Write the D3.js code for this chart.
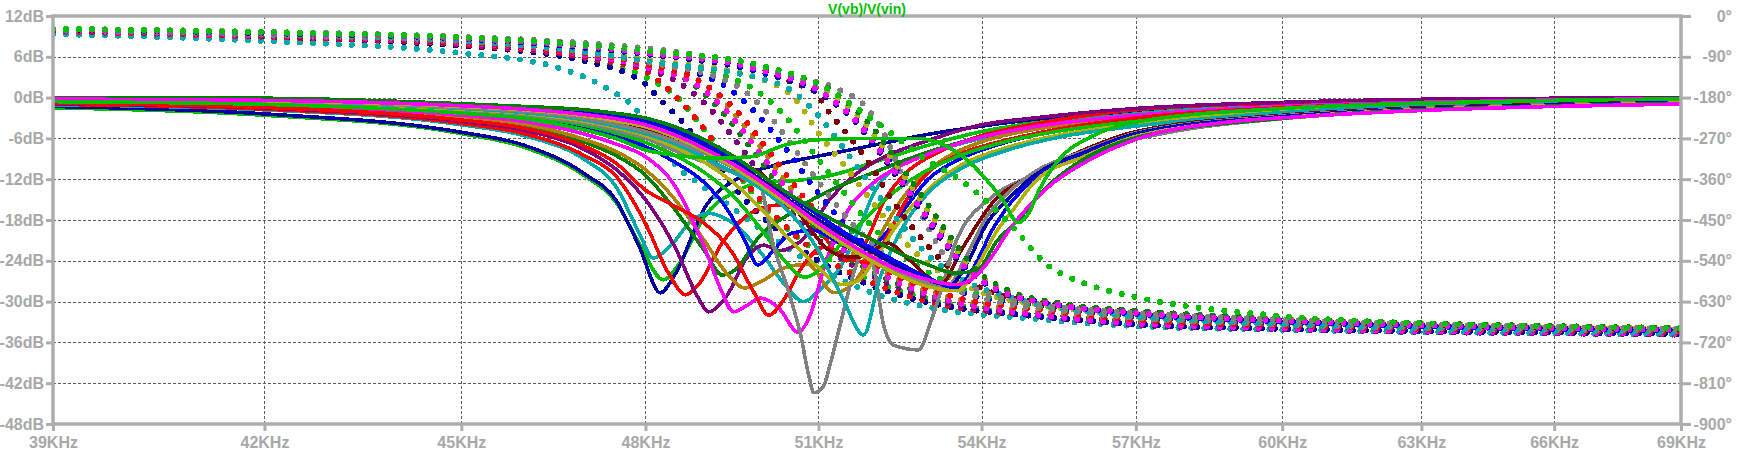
<!DOCTYPE html>
<html>
<head>
<meta charset="utf-8">
<script src="https://d3js.org/d3.v7.min.js"></script>
<style>
  html, body { margin: 0; padding: 0; background: #fff; }
  svg { display: block; }
  .lbl text { font-family: "Liberation Sans", Arial, sans-serif; font-size: 16px; font-weight: bold; fill: #a8a8a8; }
</style>
</head>
<body>
<svg id="chart"></svg>
<script>
// tick values (kHz, dB, degrees)
const freqTicks = [39, 42, 45, 48, 51, 54, 57, 60, 63, 66, 69];
const dbTicks = [12, 6, 0, -6, -12, -18, -24, -30, -36, -42, -48];
const phaseTicks = [0, -90, -180, -270, -360, -450, -540, -630, -720, -810, -900];

// one colour per .step run
const stepColors = [
  '#00c000', '#0000a0', '#00aaaa', '#ff0000', '#800080', '#008000',
  '#b08000', '#ff00ff', '#0000ff', '#ff0000', '#00c000', '#808080',
  '#b0b000', '#00aaaa', '#800000', '#808080', '#0000a0', '#0000ff',
  '#b0b000', '#008000', '#ff00ff', '#00c000'
];

// magnitude per step: [kHz, dB]
const magSteps = [
  [[39,-1.5],[42,-2.6],[45,-5.3],[46,-7.3],[47,-11.6],[47.5,-15.3],[47.9,-21.5],[48.3,-26.8],[48.6,-24],[49,-17.5],[49.5,-14],[50,-12.5],[50.6,-12.2],[51.2,-11.5],[52,-9.5],[53,-7],[54,-5],[55,-3.7],[57,-2.2],[60,-1.1],[63,-0.5],[66,-0.3],[69,-0.1]],
  [[39,-1.3],[42,-2.4],[45,-5.1],[46,-7.0],[47,-11.3],[47.5,-15],[47.9,-22],[48.25,-28.7],[48.5,-26],[49,-16.3],[49.6,-11.8],[50.2,-10],[51,-8.6],[52,-7],[53,-5.4],[54,-4.2],[55,-3.2],[57,-2],[60,-1],[63,-0.5],[66,-0.2],[69,-0.1]],
  [[39,-1.05],[42,-1.8],[45,-4.0],[46,-5.6],[47,-9.2],[47.5,-13],[47.9,-20],[48.13,-23.6],[48.4,-22],[48.8,-18],[49.05,-17],[49.5,-18.5],[50,-23],[50.4,-27.5],[50.73,-30],[51.07,-27.9],[51.3,-26],[51.7,-20],[52,-14],[52.4,-10.2],[53,-8.2],[53.5,-7],[54,-6],[55,-4.4],[57,-2.4],[60,-1.2],[63,-0.6],[66,-0.3],[69,-0.1]],
  [[39,-1.0],[42,-1.7],[45,-3.8],[46,-5.3],[47,-8.6],[47.5,-11.5],[48,-18.5],[48.4,-26],[48.68,-29],[48.9,-27.5],[49.3,-21.5],[49.8,-17],[50.28,-15.8],[50.6,-16.5],[51.1,-20.5],[51.5,-24],[51.8,-22],[52.2,-15],[52.6,-11],[53.2,-8],[54,-5.6],[55,-3.9],[57,-1.8],[60,-0.8],[63,-0.4],[66,-0.2],[69,-0.05]],
  [[39,-0.9],[42,-1.55],[45,-3.5],[46,-4.8],[47,-7.7],[47.5,-10.5],[48,-15],[48.5,-22],[48.9,-29.5],[49.07,-31.5],[49.4,-29],[49.7,-24],[50.03,-21.7],[50.3,-22.5],[50.7,-21],[51.2,-15],[51.6,-11.7],[52,-9.5],[53,-6.3],[54,-4],[55,-3],[57,-1.6],[60,-0.7],[63,-0.25],[66,-0.1],[69,0]],
  [[39,-0.8],[42,-1.35],[45,-3.1],[46,-4.2],[47,-6.6],[47.5,-8.5],[48,-11.4],[48.5,-16.5],[49,-22.5],[49.31,-26.1],[49.6,-24.8],[49.88,-21.2],[50.5,-17],[51,-14.5],[52,-11],[53,-8],[54,-5.8],[55,-4.5],[57,-3.2],[60,-1.7],[63,-0.9],[66,-0.5],[69,-0.2]],
  [[39,-0.75],[42,-1.25],[45,-2.9],[46,-3.9],[47,-6.2],[47.5,-7.9],[48,-10.6],[48.5,-15],[49,-21],[49.4,-26],[49.7,-28],[50,-27],[50.4,-25],[50.8,-24.5],[51.28,-28.7],[51.6,-27.5],[51.9,-24],[52.2,-19],[52.7,-13],[53.2,-9.5],[54,-6.5],[55,-4.7],[57,-3],[60,-1.5],[63,-0.8],[66,-0.4],[69,-0.2]],
  [[39,-0.7],[42,-1.15],[45,-2.6],[46,-3.5],[47,-5.4],[47.5,-6.8],[48,-8.7],[48.5,-13],[49,-22],[49.3,-28.5],[49.5,-31.5],[49.75,-30.5],[49.97,-29.5],[50.3,-31],[50.64,-34.5],[50.85,-32],[51.1,-25],[51.5,-17],[52,-12.5],[52.5,-10],[53,-8.3],[54,-5.8],[55,-4.3],[57,-2.6],[60,-1.3],[63,-0.7],[66,-0.35],[69,-0.15]],
  [[39,-0.55],[42,-0.9],[45,-2.1],[46,-2.9],[47,-4.4],[47.5,-5.6],[48,-7.2],[48.5,-9.5],[49,-12.5],[49.4,-16.5],[49.7,-21],[49.93,-24.6],[50.2,-22.5],[50.5,-20],[50.9,-19.5],[51.3,-21],[51.7,-22.5],[52.1,-21],[52.5,-17],[53,-12],[53.6,-9],[54.5,-6.5],[55.5,-4.8],[57,-3.1],[60,-1.6],[63,-0.9],[66,-0.5],[69,-0.25]],
  [[39,-0.85],[42,-1.45],[45,-3.3],[46,-4.5],[47,-7.2],[47.5,-9.6],[48,-13.6],[48.5,-16],[49,-18.5],[49.5,-23],[49.85,-28.5],[50.12,-32],[50.4,-29.5],[50.7,-25],[51.1,-22],[51.5,-23.5],[51.9,-24.3],[52.2,-21],[52.6,-15],[53,-11],[53.6,-8.3],[54.5,-6.2],[55.5,-4.6],[57,-3],[60,-1.5],[63,-0.8],[66,-0.4],[69,-0.2]],
  [[39,-0.5],[42,-0.85],[45,-2.0],[46,-2.7],[47,-4.1],[47.5,-5.2],[48,-6.6],[48.5,-8.5],[49,-11],[49.5,-14.5],[50,-19.5],[50.4,-24],[50.75,-26.4],[51,-25.5],[51.3,-22.5],[51.7,-19],[52.2,-15],[52.8,-11.5],[53.5,-8.8],[54.5,-6.4],[55.5,-4.9],[57,-3.5],[60,-1.8],[63,-1],[66,-0.5],[69,-0.25]],
  [[39,-0.45],[42,-0.75],[45,-1.8],[46,-2.5],[47,-3.8],[47.5,-4.8],[48,-6],[48.5,-7.8],[49,-9.5],[49.5,-11],[49.93,-12.1],[50.21,-22],[50.46,-28.3],[50.69,-35.2],[50.83,-41],[50.92,-43.4],[51.08,-42.6],[51.23,-38.6],[51.41,-32.7],[51.65,-25.4],[51.83,-22],[52.01,-25.4],[52.17,-33.2],[52.36,-36.4],[52.82,-37.1],[53.06,-32.7],[53.3,-26.8],[53.5,-21.5],[54.2,-14.6],[54.9,-11.7],[56.2,-7.7],[57.9,-4.8],[60,-3.1],[63,-1.8],[66,-1.2],[69,-0.7]],
  [[39,-0.4],[42,-0.7],[45,-1.7],[46,-2.3],[47,-3.5],[47.5,-4.4],[48,-5.6],[48.5,-7.3],[49,-9.5],[49.5,-12.5],[50,-16.5],[50.5,-21],[51,-25],[51.4,-27.5],[51.7,-27],[52,-24],[52.4,-19],[53,-13.5],[53.6,-10],[54.5,-7.3],[55.5,-5.5],[57,-3.9],[60,-2],[63,-1.1],[66,-0.6],[69,-0.3]],
  [[39,-0.35],[42,-0.6],[45,-1.6],[46,-2.2],[47,-3.3],[47.5,-4.2],[48,-5.3],[48.5,-6.8],[49,-8.8],[49.5,-11],[50,-13.5],[50.5,-17],[51,-22.5],[51.45,-29.8],[51.81,-34.9],[52.1,-26.8],[52.5,-19.5],[53,-14],[53.6,-10.5],[54.5,-7.7],[55.5,-5.8],[57,-4.2],[60,-2.2],[63,-1.2],[66,-0.65],[69,-0.35]],
  [[39,-0.3],[42,-0.5],[45,-1.4],[46,-1.9],[47,-2.9],[47.5,-3.6],[48,-4.6],[48.5,-6],[49,-7.6],[49.5,-9.3],[49.97,-11.1],[50.6,-16.5],[51.18,-22.4],[51.5,-23.4],[51.77,-23.4],[52.26,-21.4],[52.6,-23.5],[53,-26.4],[53.25,-27.3],[53.62,-22.4],[54.25,-15.1],[54.9,-11.7],[56,-7.6],[57,-5.0],[60,-2.6],[63,-1.5],[66,-1.0],[69,-0.6]],
  [[39,-0.3],[42,-0.55],[45,-1.5],[46,-2.0],[47,-3.1],[47.5,-3.9],[48,-5.0],[48.5,-6.4],[49,-8.2],[49.5,-10.3],[50,-12.7],[50.5,-15.5],[51,-18.5],[51.5,-21.5],[52,-24],[52.5,-26],[53,-27.3],[53.35,-27.8],[53.7,-23.5],[54.1,-17.5],[54.5,-14],[55,-11],[56,-7.8],[57,-5.2],[60,-2.7],[63,-1.6],[66,-1.05],[69,-0.65]],
  [[39,-0.15],[42,-0.3],[45,-1.1],[46,-1.6],[47,-2.3],[47.5,-2.9],[48,-3.8],[48.5,-5.3],[49,-7.2],[49.5,-9.5],[50,-12.2],[50.5,-15.2],[51,-18],[51.5,-20.5],[52,-22.8],[52.5,-25],[53,-26.8],[53.4,-27.6],[53.75,-24],[54.1,-18.5],[54.5,-15],[55,-11.5],[56,-8.0],[57,-5.3],[60,-2.8],[63,-1.65],[66,-1.1],[69,-0.7]],
  [[39,-0.1],[42,-0.2],[45,-1.0],[46,-1.5],[47,-2.1],[47.5,-2.7],[48,-3.4],[48.5,-4.8],[49,-6.7],[49.5,-8.9],[50,-11.5],[50.5,-14.5],[51,-17.3],[51.5,-20],[52,-22.3],[52.5,-24.5],[53,-26.5],[53.5,-28],[53.85,-25],[54.2,-19.5],[54.5,-16],[55,-12],[56,-8.3],[57,-5.5],[60,-2.9],[63,-1.7],[66,-1.15],[69,-0.75]],
  [[39,-0.25],[42,-0.45],[45,-1.3],[46,-1.8],[47,-2.7],[47.5,-3.4],[48,-4.3],[48.5,-5.8],[49,-7.8],[49.5,-10.2],[50,-13],[50.5,-16],[51,-19],[51.5,-21.8],[52,-24.2],[52.5,-26.3],[53,-27.8],[53.55,-28.4],[53.9,-25],[54.3,-19.5],[54.6,-16.5],[55,-12.5],[56,-8.6],[57,-5.7],[60,-3.0],[63,-1.75],[66,-1.2],[69,-0.8]],
  [[39,-0.05],[42,-0.1],[45,-0.9],[46,-1.3],[47,-1.8],[47.5,-2.3],[48,-3.0],[48.5,-4.3],[49,-6.2],[49.5,-8.6],[50,-11.5],[50.5,-14.3],[51,-16.8],[51.5,-19],[52,-21],[52.5,-23],[53,-24.6],[53.5,-25.8],[53.9,-25.5],[54.3,-21],[54.7,-18],[55.2,-13.5],[56,-8.9],[57,-5.9],[60,-3.05],[63,-1.8],[66,-1.25],[69,-0.85]],
  [[39,-0.2],[42,-0.4],[45,-1.2],[46,-1.7],[47,-2.5],[47.5,-3.1],[48,-4.0],[48.5,-5.5],[49,-7.5],[49.5,-9.8],[50,-12.5],[50.5,-15.5],[51,-18.5],[51.5,-21.2],[52,-23.6],[52.5,-25.5],[53,-26.8],[53.5,-27.5],[53.8,-26.8],[54.05,-24.9],[54.57,-19],[55.21,-13.6],[56.07,-9.2],[56.98,-6.2],[59,-3.5],[60.4,-2.8],[63,-1.9],[66,-1.3],[69,-0.95]],
  [[39,-0.6],[42,-1.0],[45,-2.3],[46,-3.1],[47,-4.8],[47.5,-6],[48,-7.7],[48.6,-8.6],[49.2,-8.9],[49.8,-8.7],[50.4,-7],[51,-6.2],[52,-6],[52.8,-6],[53.3,-7],[53.7,-9],[54.05,-11.7],[54.4,-15],[54.7,-18.4],[54.9,-17],[55.1,-13.6],[55.5,-9],[56.1,-5.8],[57,-3.6],[60,-1.6],[63,-0.8],[66,-0.4],[69,-0.2]]
];

// phase per step: [kHz, degrees]
const phaseSteps = [
  [[39,-34],[42,-45],[45,-62],[47,-95],[48,-135],[48.5,-175],[49,-250],[49.5,-335],[50,-415],[50.6,-485],[51.3,-545],[52.2,-595],[53.2,-630],[55,-660],[57,-676],[60,-687],[63,-693],[66,-697],[69,-700]],
  [[39,-36],[42,-48],[45,-66],[47,-100],[48,-150],[48.2,-178],[48.6,-230],[49.2,-325],[49.7,-405],[50.3,-475],[51,-540],[52,-597],[53,-632],[55,-662],[57,-680],[60,-690],[63,-695],[66,-698],[69,-701]],
  [[39,-40],[42,-55],[45,-82],[46.5,-112],[47.4,-163],[47.8,-200],[48.2,-273],[48.5,-328],[48.9,-369],[49.5,-425],[50.2,-490],[51,-555],[52,-612],[53,-642],[55,-668],[57,-684],[60,-692],[63,-697],[66,-700],[69,-703]],
  [[39,-34],[42,-46],[45,-63],[47,-92],[48,-122],[48.3,-152],[48.8,-218],[49.3,-300],[49.8,-380],[50.3,-450],[51,-525],[52,-590],[53,-630],[55,-660],[57,-678],[60,-688],[63,-694],[66,-697],[69,-700]],
  [[39,-33],[42,-44],[45,-60],[47,-88],[48,-115],[48.6,-150],[49.1,-205],[49.6,-285],[50.1,-370],[50.6,-445],[51.2,-515],[52,-575],[53,-622],[55,-660],[57,-681],[60,-691],[63,-697],[66,-700],[69,-703]],
  [[39,-31],[42,-42],[45,-57],[47,-84],[48,-108],[48.8,-150],[49.3,-210],[49.8,-290],[50.3,-375],[50.8,-450],[51.4,-520],[52.2,-578],[53.2,-622],[55,-655],[57,-674],[60,-686],[63,-692],[66,-695],[69,-698]],
  [[39,-31],[42,-41],[45,-56],[47,-82],[48,-104],[49,-150],[49.5,-212],[50,-292],[50.5,-378],[51,-452],[51.6,-520],[52.4,-578],[53.4,-620],[55,-652],[57,-670],[60,-684],[63,-690],[66,-694],[69,-697]],
  [[39,-32],[42,-43],[45,-58],[47,-86],[48,-112],[48.9,-155],[49.4,-212],[49.9,-292],[50.4,-375],[50.9,-450],[51.5,-520],[52.3,-580],[53.3,-625],[55,-658],[57,-678],[60,-689],[63,-695],[66,-698],[69,-701]],
  [[39,-30],[42,-41],[45,-55],[47,-80],[48,-100],[49.3,-150],[49.9,-215],[50.4,-290],[50.9,-375],[51.4,-450],[52,-520],[52.8,-575],[53.8,-615],[55.5,-645],[57,-664],[60,-679],[63,-687],[66,-691],[69,-694]],
  [[39,-31],[42,-42],[45,-57],[47,-83],[48,-106],[49,-150],[49.6,-215],[50.1,-295],[50.6,-378],[51.1,-452],[51.7,-520],[52.5,-578],[53.5,-620],[55.3,-650],[57,-670],[60,-683],[63,-690],[66,-694],[69,-697]],
  [[39,-29],[42,-40],[45,-53],[47,-77],[48,-97],[49.7,-150],[50.4,-220],[50.9,-300],[51.4,-380],[51.9,-455],[52.5,-525],[53.3,-585],[54.3,-625],[56,-652],[57,-662],[60,-677],[63,-685],[66,-689],[69,-692]],
  [[39,-30],[42,-41],[45,-55],[47,-80],[48,-101],[49.5,-150],[50.1,-215],[50.6,-298],[51.1,-382],[51.6,-457],[52.2,-527],[53,-582],[54.1,-625],[56,-655],[57,-665],[60,-680],[63,-688],[66,-692],[69,-695]],
  [[39,-29],[42,-39],[45,-52],[47,-76],[48,-95],[50,-140],[50.6,-185],[51,-258],[51.5,-335],[52,-415],[52.5,-490],[53.1,-555],[53.9,-605],[55.2,-638],[57,-660],[60,-676],[63,-685],[66,-689],[69,-692]],
  [[39,-30],[42,-40],[45,-54],[47,-79],[48,-99],[50.3,-150],[51,-220],[51.5,-300],[52,-383],[52.5,-460],[53,-528],[53.7,-585],[54.7,-625],[56.3,-655],[57,-663],[60,-680],[63,-689],[66,-694],[69,-698]],
  [[39,-28],[42,-36],[45,-48],[47,-64],[48,-76],[49,-92],[50,-118],[50.6,-150],[50.9,-163],[51.2,-214],[51.6,-273],[51.9,-322],[52.3,-400],[52.8,-480],[53.3,-545],[53.9,-595],[55,-630],[57,-652],[60,-670],[63,-680],[66,-686],[69,-690]],
  [[39,-28],[42,-35],[45,-46],[47,-60],[48,-71],[49,-88],[50,-112],[50.6,-134],[51.3,-159],[51.9,-207],[52.3,-289],[52.4,-320],[52.8,-420],[53.2,-510],[53.6,-580],[54.2,-615],[55,-635],[57,-655],[60,-670],[63,-680],[66,-686],[69,-690]],
  [[39,-29],[42,-38],[45,-50],[47,-70],[48,-84],[50,-125],[51,-170],[51.6,-225],[52.1,-300],[52.6,-385],[53.1,-470],[53.6,-545],[54.2,-600],[55.2,-632],[57,-656],[60,-673],[63,-683],[66,-689],[69,-693]],
  [[39,-28],[42,-37],[45,-49],[47,-68],[48,-82],[50,-122],[51.1,-172],[51.7,-230],[52.2,-305],[52.7,-390],[53.2,-475],[53.7,-550],[54.3,-602],[55.3,-634],[57,-657],[60,-674],[63,-684],[66,-690],[69,-694]],
  [[39,-28],[42,-36],[45,-48],[47,-66],[48,-80],[50,-118],[51.2,-170],[51.8,-232],[52.3,-310],[52.8,-395],[53.3,-480],[53.8,-555],[54.4,-603],[55.5,-635],[57,-652],[60,-669],[63,-679],[66,-685],[69,-689]],
  [[39,-28],[42,-36],[45,-47],[47,-64],[48,-77],[50,-115],[51.3,-170],[51.9,-235],[52.4,-315],[52.9,-400],[53.4,-485],[53.9,-560],[54.5,-605],[55.6,-635],[57,-650],[60,-668],[63,-678],[66,-684],[69,-688]],
  [[39,-29],[42,-37],[45,-49],[47,-67],[48,-81],[50,-120],[51.1,-172],[51.7,-235],[52.2,-312],[52.7,-398],[53.2,-482],[53.7,-556],[54.3,-604],[55.4,-636],[57,-655],[60,-672],[63,-682],[66,-688],[69,-692]],
  [[39,-28],[42,-36],[45,-47],[47,-64],[48,-76],[50,-110],[51,-150],[52,-230],[53,-320],[53.6,-362],[54.2,-420],[54.7,-479],[55,-520],[55.3,-553],[55.6,-572],[56.2,-598],[57,-620],[60,-662],[63,-678],[66,-685],[69,-689]]
];

const traceName = 'V(vb)/V(vin)';

/**
 * Bode plot in the look of an LTspice waveform window
 */
class BodePlot {
  constructor(selector, width, height) {
    this.width = width;
    this.height = height;
    this.left = 53;
    this.right = 1681;
    this.top = 16;
    this.bottom = 424;

    this.svg = d3.select(selector)
      .attr('width', width)
      .attr('height', height);

    this.x = d3.scaleLog()
      .domain([39, 69])
      .range([this.left, this.right]);

    this.yDb = d3.scaleLinear()
      .domain([-48, 12])
      .range([this.bottom, this.top]);

    this.yPhase = d3.scaleLinear()
      .domain([-900, 0])
      .range([this.bottom, this.top]);
  }

  /**
   * Dashed grid at every tick, inside the frame
   */
  drawGrid() {
    var g = this.svg.append('g')
      .attr('stroke', '#5c5c5c')
      .attr('stroke-width', 1)
      .attr('stroke-dasharray', '3,2');

    g.selectAll('line.v')
      .data(freqTicks.slice(1, -1))
      .enter().append('line')
      .attr('class', 'v')
      .attr('x1', d => Math.round(this.x(d)) + 0.5)
      .attr('x2', d => Math.round(this.x(d)) + 0.5)
      .attr('y1', this.top)
      .attr('y2', this.bottom);

    g.selectAll('line.h')
      .data(dbTicks.slice(1, -1))
      .enter().append('line')
      .attr('class', 'h')
      .attr('x1', this.left)
      .attr('x2', this.right)
      .attr('y1', d => Math.round(this.yDb(d)) + 0.5)
      .attr('y2', d => Math.round(this.yDb(d)) + 0.5);
  }

  /**
   * Magnitude as thick line, phase as a dotted line, one pair per step
   */
  drawSteps() {
    this.svg.append('clipPath')
      .attr('id', 'plotclip')
      .append('rect')
      .attr('x', this.left)
      .attr('y', this.top)
      .attr('width', this.right - this.left)
      .attr('height', this.bottom - this.top);

    var magLine = d3.line()
      .x(d => this.x(d[0]))
      .y(d => this.yDb(d[1]))
      .curve(d3.curveMonotoneX);

    var phaseLine = d3.line()
      .x(d => this.x(d[0]))
      .y(d => this.yPhase(d[1]))
      .curve(d3.curveMonotoneX);

    // LTspice draws without anti-aliasing
    var g = this.svg.append('g')
      .attr('clip-path', 'url(#plotclip)')
      .attr('fill', 'none')
      .attr('shape-rendering', 'crispEdges');

    magSteps.forEach(function(mag, i) {
      g.append('path')
        .attr('d', magLine(mag))
        .attr('stroke', stepColors[i])
        .attr('stroke-width', 3.6)
        .attr('stroke-linejoin', 'round');

      g.append('path')
        .attr('d', phaseLine(phaseSteps[i]))
        .attr('stroke', stepColors[i])
        .attr('stroke-width', 6)
        .attr('stroke-linecap', 'round')
        .attr('stroke-dasharray', '0,13');
    });
  }

  /**
   * Frame, ticks and labels on three sides plus the trace name
   */
  drawAxes() {
    var axisColor = '#adadad';

    var left = this.svg.append('g')
      .attr('class', 'lbl')
      .attr('transform', 'translate(' + this.left + ',0)')
      .call(d3.axisLeft(this.yDb)
        .tickValues(dbTicks)
        .tickFormat(d => d + 'dB')
        .tickSize(7)
        .tickPadding(2));

    var right = this.svg.append('g')
      .attr('class', 'lbl')
      .attr('transform', 'translate(' + this.right + ',0)')
      .call(d3.axisRight(this.yPhase)
        .tickValues(phaseTicks)
        .tickFormat(d => d + '°')
        .tickSize(10)
        .tickPadding(2));

    right.selectAll('text')
      .attr('text-anchor', 'end')
      .attr('x', 1732 - this.right);

    var bottom = this.svg.append('g')
      .attr('class', 'lbl')
      .attr('transform', 'translate(0,' + this.bottom + ')')
      .call(d3.axisBottom(this.x)
        .tickValues(freqTicks)
        .tickFormat(d => d + 'KHz')
        .tickSize(7)
        .tickPadding(6));

    [left, right, bottom].forEach(function(axis) {
      axis.select('.domain').remove();
      axis.selectAll('line')
        .attr('stroke', axisColor)
        .attr('stroke-width', 3);
      axis.attr('font-family', null).attr('font-size', null);
    });

    this.svg.append('rect')
      .attr('x', this.left)
      .attr('y', this.top)
      .attr('width', this.right - this.left)
      .attr('height', this.bottom - this.top)
      .attr('fill', 'none')
      .attr('stroke', axisColor)
      .attr('stroke-width', 3.5);

    // trace name sits just above the frame
    this.svg.append('text')
      .attr('x', (this.left + this.right) / 2)
      .attr('y', 14)
      .attr('text-anchor', 'middle')
      .attr('font-family', '"Liberation Sans", Arial, sans-serif')
      .attr('font-size', 14)
      .attr('font-weight', 'bold')
      .attr('fill', '#00c000')
      .text(traceName);
  }

  render() {
    this.drawGrid();
    this.drawSteps();
    this.drawAxes();
  }
}

var plot = new BodePlot('#chart', 1741, 456);
plot.render();
</script>
</body>
</html>
